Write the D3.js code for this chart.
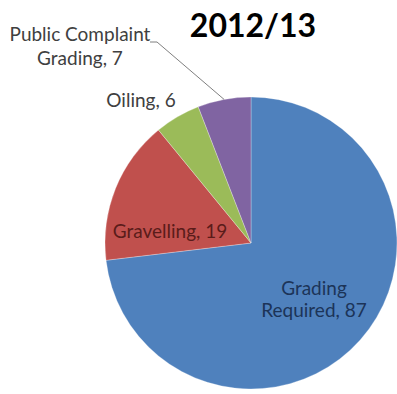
<!DOCTYPE html>
<html>
<head>
<meta charset="utf-8">
<script src="https://cdn.jsdelivr.net/npm/d3@7"></script>
<style>
  html, body { margin: 0; padding: 0; background: #fff; }
  svg { display: block; }
  text { font-family: Lato, "Open Sans", sans-serif; }
</style>
</head>
<body>
<svg id="chart" width="397" height="394"></svg>
<script>
// Road maintenance requests, 2012/13
const title = "2012/13";
const categories = ["Grading Required", "Gravelling", "Oiling", "Public Complaint Grading"];
const values = [87, 19, 6, 7];
const colors = ["#4f81bd", "#c0504d", "#9bbb59", "#8064a2"];
const labelColors = ["#1c3458", "#5a1c1a", "#404040", "#404040"];
// label lines per slice (text wrapping as drawn)
const labelLines = [
  ["Grading", "Required, 87"],
  ["Gravelling, 19"],
  ["Oiling, 6"],
  ["Public Complaint", "Grading, 7"]
];

// layout
const cx = 251, cy = 243, R = 146;
const labelAnchors = [
  { x: 314, y: 295, dy: 22 },
  { x: 170, y: 238, dy: 0 },
  { x: 141, y: 107, dy: 0 },
  { x: 80,  y: 41,  dy: 24 }
];

const svg = d3.select("#chart");

const pie = d3.pie().sort(null).value(d => d)(values);
const arc = d3.arc().innerRadius(0).outerRadius(R);

const g = svg.append("g").attr("transform", `translate(${cx},${cy})`);

g.selectAll("path.slice")
  .data(pie)
  .join("path")
  .attr("class", "slice")
  .attr("d", arc)
  .attr("fill", (d, i) => colors[i])
  .attr("stroke", "#ffffff")
  .attr("stroke-opacity", 0.35)
  .attr("stroke-width", 0.8);

// leader line for the outside label of the last slice
const lastArc = pie[3];
const midA = (lastArc.startAngle + lastArc.endAngle) / 2;
const edge = [cx + R * Math.sin(midA), cy - R * Math.cos(midA)];
svg.append("polyline")
  .attr("points", [[150, 42], [157, 42], edge].map(p => p.join(",")).join(" "))
  .attr("fill", "none")
  .attr("stroke", "#7f7f7f")
  .attr("stroke-width", 1);

// slice labels
labelLines.forEach((lines, i) => {
  const t = svg.append("text")
    .attr("text-anchor", "middle")
    .attr("fill", labelColors[i])
    .attr("font-size", 19)
    .attr("font-weight", 400);
  lines.forEach((ln, k) => {
    t.append("tspan")
      .attr("x", labelAnchors[i].x)
      .attr("y", labelAnchors[i].y + k * labelAnchors[i].dy)
      .text(ln);
  });
});

// title
svg.append("text")
  .attr("x", 253)
  .attr("y", 37)
  .attr("text-anchor", "middle")
  .attr("font-size", 32)
  .attr("font-weight", 700)
  .attr("fill", "#000")
  .text(title);
</script>
</body>
</html>
